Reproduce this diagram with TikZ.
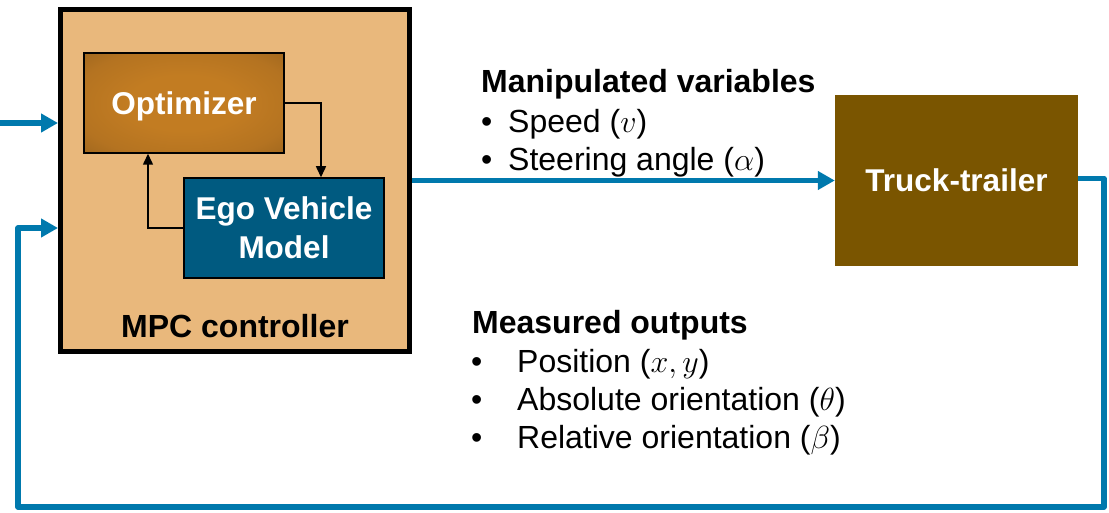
\RequirePackage{fix-cm}
\documentclass[tikz,border=0pt]{standalone}
\usepackage{fontspec}
\setmainfont{Liberation Sans}
\usetikzlibrary{arrows.meta}
\definecolor{mpcfill}{HTML}{E9B87C}
\definecolor{flowblue}{HTML}{0079AD}
\definecolor{egofill}{HTML}{005A80}
\definecolor{truckfill}{HTML}{7A5500}
\definecolor{optc}{HTML}{C27C22}
\definecolor{optb}{HTML}{B47321}
\definecolor{optm}{HTML}{98621D}
\definecolor{optd}{HTML}{6A4315}
\pgfdeclareradialshading{optshade}{\pgfpoint{0bp}{0bp}}{color(0bp)=(optc); color(14bp)=(optc); color(28bp)=(optb); color(40bp)=(optm); color(50bp)=(optd)}
\newcommand{\bigfont}{\fontsize{32}{38}\selectfont}
\newcommand{\boxfont}{\fontsize{31.5}{39}\selectfont}
\tikzset{
  mpcbox/.style={draw=black, line width=5pt, fill=mpcfill, minimum width=349pt, minimum height=341.5pt, inner sep=0pt},
  optbox/.style={draw=black, line width=1.5pt, shading=optshade, minimum width=200pt, minimum height=100pt, inner sep=0pt, text=white, font=\boxfont\bfseries, text depth=0pt},
  egobox/.style={draw=black, line width=1.5pt, fill=egofill, minimum width=200pt, minimum height=100pt, inner sep=0pt, text=white, font=\boxfont\bfseries, align=center},
  truckbox/.style={fill=truckfill, minimum width=243pt, minimum height=171pt, inner sep=0pt, text=white, font=\boxfont\bfseries},
  flow/.style={draw=flowblue, line width=5.5pt, -{Triangle[length=17pt,width=18pt]}},
  ctrl/.style={draw=black, line width=1.5pt, -{Triangle[length=11pt,width=10pt]}},
  title/.style={anchor=base west, inner sep=0pt, font=\bigfont\bfseries},
  item/.style={anchor=base west, inner sep=0pt, font=\bigfont},
}
\begin{document}
\begin{tikzpicture}[x=1pt, y=-1pt]
\useasboundingbox (0,0) rectangle (1109,513);
% MPC controller
\node[mpcbox] (mpc) at (235,180.25) {};
\node[anchor=base, inner sep=0pt, font=\bigfont\bfseries] (mpclabel) at (235,337) {MPC controller};
\node[optbox] (opt) at (184,103) {Optimizer};
\node[egobox] (ego) at (284,228) {Ego Vehicle\\Model};
\draw[ctrl] (opt.east) -| ([xshift=37pt]ego.north);
\draw[ctrl] (ego.west) -| ([xshift=-36pt]opt.south);
% plant
\node[truckbox] (truck) at (956.5,180.5) {Truck-trailer};
% signals
\coordinate (inp) at (0,123);
\draw[flow] (inp) -- (mpc.west |- inp);
\draw[flow] (mpc.east |- truck.west) -- (truck.west);
\coordinate (fb1) at (1104,507);
\coordinate (fb2) at (18,507);
\coordinate (fb3) at (18,228);
\draw[flow, line join=round] ([yshift=2pt]truck.east) -| (fb1) -- (fb2) -- (fb3) -- (mpc.west |- fb3);
% labels
\node[title] (mvt) at (481,93) {Manipulated variables};
\node[item] (mv1) at (481,133) {\makebox[27pt][l]{•}Speed ($v$)};
\node[item] (mv2) at (481,171) {\makebox[27pt][l]{•}Steering angle ($\alpha$)};
\node[title] (mot) at (472,333) {Measured outputs};
\node[item] (mo1) at (471,372) {\makebox[46pt][l]{•}Position ($x, y$)};
\node[item] (mo2) at (471,410) {\makebox[46pt][l]{•}Absolute orientation ($\theta$)};
\node[item] (mo3) at (471,448) {\makebox[46pt][l]{•}Relative orientation ($\beta$)};
\end{tikzpicture}
\end{document}
